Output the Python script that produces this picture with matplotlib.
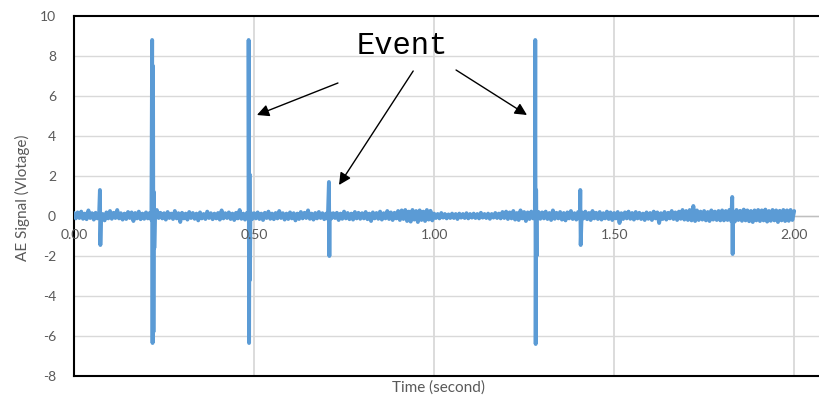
import numpy as np
import matplotlib
matplotlib.use("Agg")
import matplotlib.pyplot as plt

# ---- data -------------------------------------------------------------
# background noise in hundredths of a volt, one value every 5 ms, 0.000-2.000 s
noise_cv = [
    15, -12, 18, -10, 22, -14, 12, -16, 28, -10, 14, -18, 16, -12, 20, -15, 10, -22, 18, -12,
    25, -14, 16, -10, 30, -12, 14, -18, 12, -15, 20, -10, 18, -25, 15, -12, 22, -16, 12, -14,
    18, -12, 15, -20, 12, -14, 30, -10, 16, -12, 14, -18, 20, -10, 12, -15, 25, -12, 14, -30,
    16, -12, 12, -18, 20, -10, 15, -14, 12, -22, 18, -12, 10, -15, 22, -10, 14, -16, 12, -12,
    15, -18, 28, -12, 14, -10, 18, -15, 12, -20, 16, -12, 30, -14, 12, -18, 15, -12, 20, -15,
    14, -12, 18, -15, 12, -20, 16, -10, 22, -14, 12, -16, 15, -12, 25, -10, 14, -18, 12, -15,
    18, -12, 14, -22, 12, -15, 20, -12, 16, -10, 28, -14, 12, -18, 15, -12, 20, -10, 14, -16,
    12, -15, 18, -12, 14, -10, 16, -20, 12, -14, 22, -12, 15, -16, 12, -18, 20, -12, 16, -14,
    14, -12, 20, -16, 12, -25, 18, -12, 15, -14, 22, -18, 14, -12, 25, -15, 18, -20, 16, -12,
    25, -20, 28, -15, 30, -25, 22, -28, 30, -18, 25, -30, 28, -20, 22, -25, 30, -18, 26, -22,
    12, -10, 10, -12, 15, -8, 10, -12, 8, -10, 12, -10, 10, -15, 12, -8, 10, -10, 14, -12,
    10, -8, 12, -10, 10, -12, 16, -8, 10, -10, 12, -14, 10, -8, 15, -10, 12, -12, 20, -10,
    22, -15, 18, -12, 25, -18, 15, -20, 28, -12, 20, -25, 18, -15, 22, -12, 16, -18, 20, -14,
    18, -12, 22, -15, 15, -20, 28, -14, 16, -12, 20, -18, 15, -22, 18, -12, 25, -15, 14, -18,
    20, -14, 18, -12, 22, -16, 15, -20, 25, -12, 16, -15, 20, -18, 14, -12, 22, -15, 18, -20,
    15, -12, 20, -35, 14, -15, 18, -12, 22, -14, 15, -18, 20, -12, 16, -15, 12, -20, 18, -14,
    15, -20, 22, -12, 18, -35, 14, -15, 20, -18, 16, -12, 25, -15, 18, -20, 22, -14, 30, -18,
    25, -20, 30, -22, 50, -25, 28, -20, 22, -18, 25, -22, 20, -25, 28, -18, 22, -20, 25, -22,
    28, -22, 25, -20, 30, -25, 22, -28, 30, -20, 26, -24, 32, -22, 28, -26, 25, -30, 28, -22,
    30, -25, 28, -22, 32, -28, 25, -24, 30, -22, 28, -30, 26, -22, 30, -25, 28, -24, 30, -20,
    25,
]

# burst arrivals: time (s) and the successive peak voltages of each burst
burst_time = [0.072, 0.217, 0.485, 0.708, 1.281, 1.406, 1.828]
burst_peaks = [
    [1.30, -1.45],
    [8.80, -6.35, 7.50, -5.80, 1.20, -1.60],
    [8.80, -6.35, 2.10, -3.20],
    [1.70, -2.00],
    [8.80, -6.40, 1.30, -2.00],
    [1.30, -1.45],
    [0.95, -1.90],
]

x_ticks = [0.0, 0.5, 1.0, 1.5, 2.0]
x_tick_labels = ["0.00", "0.50", "1.00", "1.50", "2.00"]
y_ticks = [-8, -6, -4, -2, 0, 2, 4, 6, 8, 10]

# ---- assemble the signal ----------------------------------------------
t_noise = np.linspace(0.0, 2.0, len(noise_cv))
t_parts = [t_noise]
v_parts = [np.asarray(noise_cv) / 100.0]
for t0, peaks in zip(burst_time, burst_peaks):
    t_parts.append(t0 + 0.0012 * np.arange(len(peaks)))
    v_parts.append(np.asarray(peaks))
t_sig = np.concatenate(t_parts)
v_sig = np.concatenate(v_parts)
order = np.argsort(t_sig, kind="stable")
t_sig, v_sig = t_sig[order], v_sig[order]

# ---- figure -----------------------------------------------------------
plt.rcParams["font.family"] = ["Lato", "DejaVu Sans"]
W, H, DPI = 819, 398, 100
fig = plt.figure(figsize=(W / DPI, H / DPI), dpi=DPI)
ax = fig.add_axes([74 / W, (398 - 376) / H, (W - 74) / W, (376 - 16) / H])

grey_txt = "#595959"
grid_c = "#D9D9D9"
line_c = "#5B9BD5"

ax.set_xlim(0, 2.069)
ax.set_ylim(-8, 10)

for y in y_ticks[1:-1]:
    ax.axhline(y, color=grid_c, lw=1.0, zorder=0)
for x in x_ticks[1:]:
    ax.axvline(x, color=grid_c, lw=1.3, zorder=0)
ax.axhline(0, color="#BFBFBF", lw=1.0, zorder=1)

ax.plot(t_sig, v_sig, color=line_c, lw=2.8, solid_joinstyle="round",
        solid_capstyle="round", zorder=3)

for s in ["top", "bottom", "left"]:
    ax.spines[s].set_color("black")
    ax.spines[s].set_linewidth(1.5)
ax.spines["right"].set_visible(False)
ax.set_xticks([])
ax.set_yticks(y_ticks)
ax.set_yticklabels([str(v) for v in y_ticks], color=grey_txt, fontsize=10)
ax.tick_params(axis="y", length=0, pad=13)

for x, lab in zip(x_ticks, x_tick_labels):
    ax.text(x, -0.95, lab, ha="center", va="center", color=grey_txt,
            fontsize=10, zorder=5)

fig.text(22 / W, 1 - 198 / H, "AE Signal (Vlotage)", rotation=90,
         ha="center", va="center", color=grey_txt, fontsize=11)
fig.text(438 / W, 1 - 388 / H, "Time (second)", ha="center", va="center",
         color=grey_txt, fontsize=11)

# annotation pointing at the three large bursts
ax.text(0.912, 8.5, "Event", family=["Liberation Mono"], fontsize=22,
        ha="center", va="center", color="black", zorder=6)
arrow_kw = dict(arrowstyle="-|>", color="black", lw=1.0, mutation_scale=18,
                shrinkA=0, shrinkB=0)
ax.annotate("", xy=(0.508, 5.05), xytext=(0.733, 6.65), arrowprops=arrow_kw)
ax.annotate("", xy=(0.736, 1.55), xytext=(0.942, 7.25), arrowprops=arrow_kw)
ax.annotate("", xy=(1.258, 5.05), xytext=(1.061, 7.30), arrowprops=arrow_kw)

fig.savefig("out.png", dpi=DPI)
